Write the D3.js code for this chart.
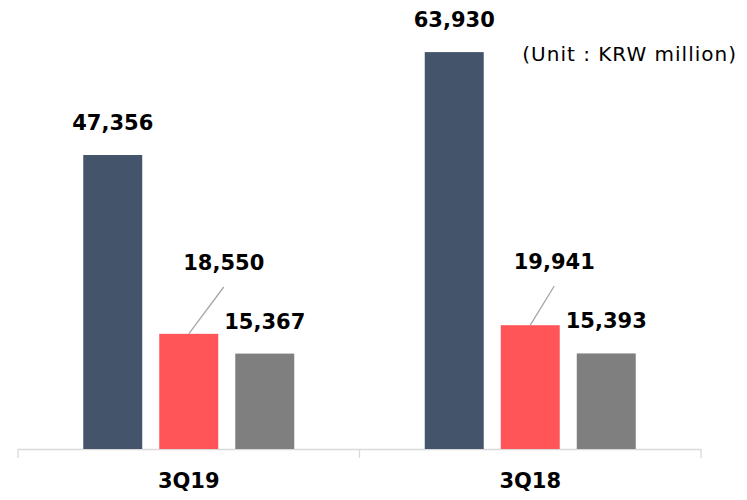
<!DOCTYPE html>
<html>
<head>
<meta charset="utf-8">
<script src="https://cdn.jsdelivr.net/npm/d3@7"></script>
<style>
  body { margin: 0; background: #fff; }
  text { font-family: "DejaVu Sans", sans-serif; }
</style>
</head>
<body>
<div id="chart-area"></div>
<script>
// data
const categories = ['3Q19', '3Q18'];
const seriesNames = ['a', 'b', 'c'];
const values = [
    [47356, 18550, 15367],
    [63930, 19941, 15393]
];
const seriesColors = ['#44546A', '#FF5558', '#7F7F7F'];

const W = 747, H = 500;
const margin = {left: 18, right: 46, top: 0, bottom: 51};
const baseY = H - margin.bottom;

const svg = d3.select('#chart-area')
    .append('svg')
    .attr('width', W)
    .attr('height', H);

const x0 = d3.scaleBand()
    .domain(categories)
    .range([margin.left, W - margin.right]);

const x1 = d3.scaleBand()
    .domain(seriesNames)
    .range([-105.5, 105.5])
    .paddingInner(0.224);

const y = d3.scaleLinear()
    .domain([0, 47356])
    .range([baseY, 155]);

// axis
const axisG = svg.append('g').attr('stroke', '#D9D9D9').attr('stroke-width', 1.3);
axisG.append('line')
    .attr('x1', x0.range()[0]).attr('x2', x0.range()[1])
    .attr('y1', baseY + 0.5).attr('y2', baseY + 0.5);
const tickXs = categories.map(c => x0(c)).concat([x0.range()[1]]);
tickXs.forEach(tx => {
    axisG.append('line')
        .attr('x1', tx).attr('x2', tx)
        .attr('y1', baseY).attr('y2', baseY + 9);
});

svg.selectAll('.cat-label')
    .data(categories)
    .enter().append('text')
    .attr('class', 'cat-label')
    .attr('x', d => x0(d) + x0.bandwidth() / 2)
    .attr('y', baseY + 39)
    .attr('text-anchor', 'middle')
    .attr('font-size', '21px')
    .attr('font-weight', 'bold')
    .attr('fill', '#000')
    .text(d => d);

// bars
const fmt = d3.format(',');
const groups = svg.selectAll('.grp')
    .data(categories)
    .enter().append('g')
    .attr('class', 'grp')
    .attr('transform', d => 'translate(' + (x0(d) + x0.bandwidth() / 2) + ', 0)');

const cells = groups.selectAll('.bar')
    .data((c, i) => seriesNames.map((s, j) => ({s: s, j: j, v: values[i][j], cat: c})))
    .enter();

cells.append('rect')
    .attr('class', 'bar')
    .attr('x', d => x1(d.s))
    .attr('width', x1.bandwidth())
    .attr('y', d => y(d.v))
    .attr('height', d => baseY - y(d.v))
    .attr('fill', d => seriesColors[d.j]);

// red labels sit up-right with a leader line
const shift = {'3Q19': {dx: 35, y: 270}, '3Q18': {dx: 24, y: 269}};

cells.filter(d => d.j === 1).append('line')
    .attr('x1', d => x1(d.s) + x1.bandwidth() / 2)
    .attr('y1', d => y(d.v))
    .attr('x2', d => x1(d.s) + x1.bandwidth() / 2 + shift[d.cat].dx)
    .attr('y2', d => shift[d.cat].y + 17)
    .attr('stroke', '#A6A6A6')
    .attr('stroke-width', 1.3);

cells.append('text')
    .attr('x', d => x1(d.s) + x1.bandwidth() / 2 + (d.j === 1 ? shift[d.cat].dx : 0))
    .attr('y', d => d.j === 1 ? shift[d.cat].y : y(d.v) - 25)
    .attr('text-anchor', 'middle')
    .attr('font-size', '21px')
    .attr('font-weight', 'bold')
    .attr('fill', '#000')
    .text(d => fmt(d.v));

svg.append('text')
    .attr('x', 737)
    .attr('y', 61)
    .attr('text-anchor', 'end')
    .attr('font-size', '20px')
    .attr('letter-spacing', '1px')
    .attr('fill', '#000')
    .text('(Unit : KRW million)');
</script>
</body>
</html>
